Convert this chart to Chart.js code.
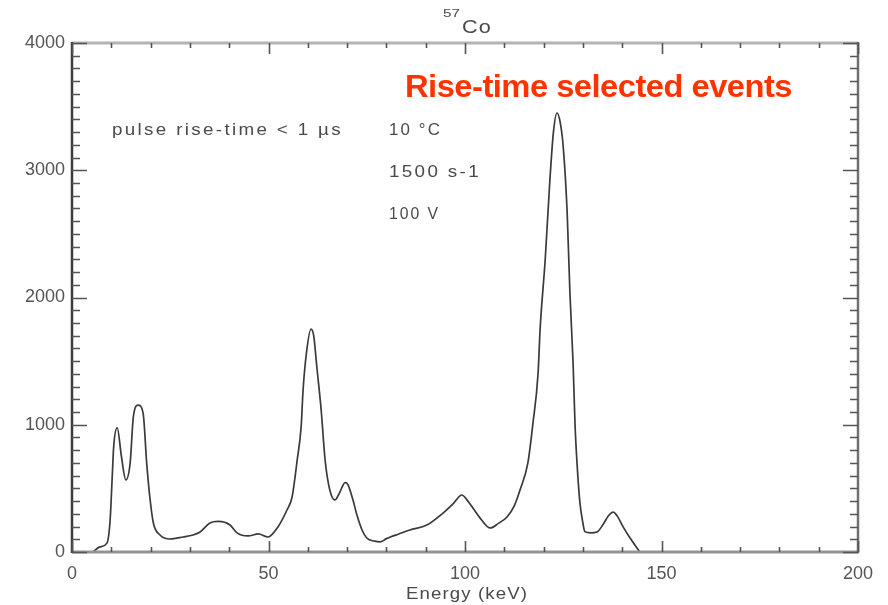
<!DOCTYPE html>
<html lang="en">
<head>
<meta charset="UTF-8">
<title>57Co spectrum - rise-time selected events</title>
<script src="https://cdn.jsdelivr.net/npm/chart.js"></script>
<style>
    body { margin: 0; background: #fff; }
    canvas { display: block; }
</style>
</head>
<body>
<canvas id="spectrum" width="888" height="605"></canvas>
<script>
// spectrum: energy in keV, counts
const energy = [5.3, 7.1, 8.9, 9.7, 10.2, 10.6, 11.5, 12.6, 13.7, 14.8, 15.6, 16.8, 18.1, 19.0, 19.8, 20.7,
    22.4, 24.9, 28.3, 30.8, 32.6, 35.1, 37.2, 40.2, 42.0, 44.8, 47.4, 49.9, 52.4, 54.7, 56.0,
    57.3, 58.3, 58.8, 59.6, 60.8, 61.5, 62.3, 63.4, 64.4, 65.6, 66.9, 68.0, 69.5, 70.2, 71.5,
    72.5, 73.8, 75.0, 77.0, 78.4, 80.0, 81.0, 83.0, 86.0, 90.3, 94.4, 97.0, 99.2, 100.5, 102.0,
    104.0, 106.4, 108.5, 110.7, 112.5, 114.0, 116.0, 117.3, 118.6, 119.1, 120.4, 121.6, 122.5,
    123.4, 124.2, 125.0, 126.0, 126.7, 127.5, 128.0, 128.5, 129.2, 130.0, 130.5, 132.0, 133.6,
    135.0, 136.5, 137.7, 138.8, 140.2, 142.0, 144.5];
const counts = [0, 40, 70, 250, 566, 825, 975, 745, 566, 700, 1060, 1155, 1090, 700, 432, 228,
    134, 102, 118, 134, 157, 228, 240, 212, 150, 126, 142, 118, 197, 330, 432,
    723, 982, 1273, 1550, 1752, 1700, 1454, 1116, 723, 487, 409, 460, 545, 530, 409,
    290, 173, 110, 85, 79, 105, 118, 140, 173, 212, 306, 380, 448, 410, 346,
    260, 189, 225, 275, 360, 487, 700, 1014, 1407, 1745, 2295, 2923, 3300,
    3450, 3380, 3183, 2664, 2035, 1485, 1000, 700, 400, 228, 160, 150, 157,
    210, 285, 314, 280, 200, 110, 0];

const xMajor = [0, 50, 100, 150, 200];
const yMajor = [0, 1000, 2000, 3000, 4000];

const titleText = 'Co';
const isotopeMass = '57';
const xTitle = 'Energy (keV)';
const redNote = 'Rise-time selected events';
const notes = ['pulse rise-time < 1 \u00b5s', '10 \u00b0C', '1500 s-1', '100 V'];

// text drawn stretched to the width it has in the picture
function fitText(ctx, text, x, y, width, font, color, spacing) {
    ctx.save();
    ctx.font = font;
    ctx.letterSpacing = (spacing || 0) + 'px';
    ctx.fillStyle = color;
    ctx.textBaseline = 'middle';
    ctx.textAlign = 'left';
    const w = ctx.measureText(text).width;
    ctx.translate(x, y);
    ctx.scale(width / w, 1);
    ctx.fillText(text, 0, 0);
    ctx.restore();
}

const boxPlugin = {
    id: 'box',
    afterDraw(chart) {
        const ctx = chart.ctx;
        const a = chart.chartArea;
        const xs = chart.scales.x, ys = chart.scales.y;
        ctx.save();

        // frame
        ctx.lineWidth = 3;
        ctx.strokeStyle = '#b4b4b4';
        ctx.beginPath(); ctx.moveTo(a.left, a.top); ctx.lineTo(a.right, a.top); ctx.stroke();
        ctx.strokeStyle = '#939393';
        ctx.beginPath(); ctx.moveTo(a.left, a.bottom); ctx.lineTo(a.right + 1, a.bottom); ctx.stroke();
        ctx.lineWidth = 2.5;
        ctx.strokeStyle = '#3c3c3c';
        ctx.beginPath(); ctx.moveTo(a.left, a.top - 1); ctx.lineTo(a.left, a.bottom + 1); ctx.stroke();
        ctx.strokeStyle = '#707070';
        ctx.beginPath(); ctx.moveTo(a.right, a.top - 1); ctx.lineTo(a.right, a.bottom + 1); ctx.stroke();

        // inward ticks
        ctx.strokeStyle = '#555';
        ctx.lineWidth = 1.6;
        for (let v = 0; v <= 200; v += 10) {
            const px = Math.round(xs.getPixelForValue(v)) + 0.5;
            const len = v % 50 === 0 ? 11 : 5;
            ctx.beginPath();
            ctx.moveTo(px, a.bottom); ctx.lineTo(px, a.bottom - len);
            ctx.moveTo(px, a.top); ctx.lineTo(px, a.top + len);
            ctx.stroke();
        }
        for (let v = 0; v <= 4000; v += 100) {
            const py = Math.round(ys.getPixelForValue(v)) + 0.5;
            const len = v % 1000 === 0 ? 15 : 8;
            ctx.beginPath();
            ctx.moveTo(a.left, py); ctx.lineTo(a.left + len, py);
            ctx.moveTo(a.right, py); ctx.lineTo(a.right - len, py);
            ctx.stroke();
        }
        ctx.restore();

        const grey = '#4a4a4a';
        const f = '"Liberation Sans", Arial, sans-serif';
        fitText(ctx, titleText, 462, 28, 30, '19px ' + f, grey, 1);
        fitText(ctx, isotopeMass, 443, 14, 17, '11px ' + f, grey, 0);
        fitText(ctx, xTitle, 406, 594, 122, '17px ' + f, grey, 1);
        fitText(ctx, redNote, 405, 88, 387, 'bold 31px ' + f, '#ff3300', -0.5);
        fitText(ctx, notes[0], 112, 131, 231, '16px ' + f, grey, 2);
        fitText(ctx, notes[1], 389, 131, 53, '16px ' + f, grey, 2);
        fitText(ctx, notes[2], 389, 173, 92, '16px ' + f, grey, 2);
        fitText(ctx, notes[3], 389, 215, 51, '16px ' + f, grey, 2);
    }
};

new Chart(document.getElementById('spectrum'), {
    type: 'line',
    data: {
        datasets: [{
            data: energy.map((e, i) => ({ x: e, y: counts[i] })),
            borderColor: '#3a3a3a',
            borderWidth: 1.7,
            pointRadius: 0,
            cubicInterpolationMode: 'monotone',
            fill: false
        }]
    },
    options: {
        responsive: false,
        animation: false,
        devicePixelRatio: 1,
        layout: { padding: { top: 43, right: 30, left: 0, bottom: 0 } },
        plugins: { legend: { display: false }, tooltip: { enabled: false } },
        scales: {
            x: {
                type: 'linear',
                min: 0, max: 200,
                afterFit(s) { s.height = 53; },
                afterBuildTicks(s) { s.ticks = xMajor.map(v => ({ value: v })); },
                grid: { display: false, drawTicks: false },
                border: { display: false },
                ticks: {
                    padding: 11,
                    color: '#555',
                    font: { family: '"Liberation Sans", Arial, sans-serif', size: 18 },
                    maxRotation: 0,
                    autoSkip: false,
                    callback: v => String(v)
                }
            },
            y: {
                type: 'linear',
                min: 0, max: 4000,
                afterFit(s) { s.width = 72; },
                afterBuildTicks(s) { s.ticks = yMajor.map(v => ({ value: v })); },
                grid: { display: false, drawTicks: false },
                border: { display: false },
                ticks: {
                    padding: 7,
                    color: '#555',
                    font: { family: '"Liberation Sans", Arial, sans-serif', size: 18 },
                    autoSkip: false,
                    callback: v => String(v)
                }
            }
        }
    },
    plugins: [boxPlugin]
});
</script>
</body>
</html>
